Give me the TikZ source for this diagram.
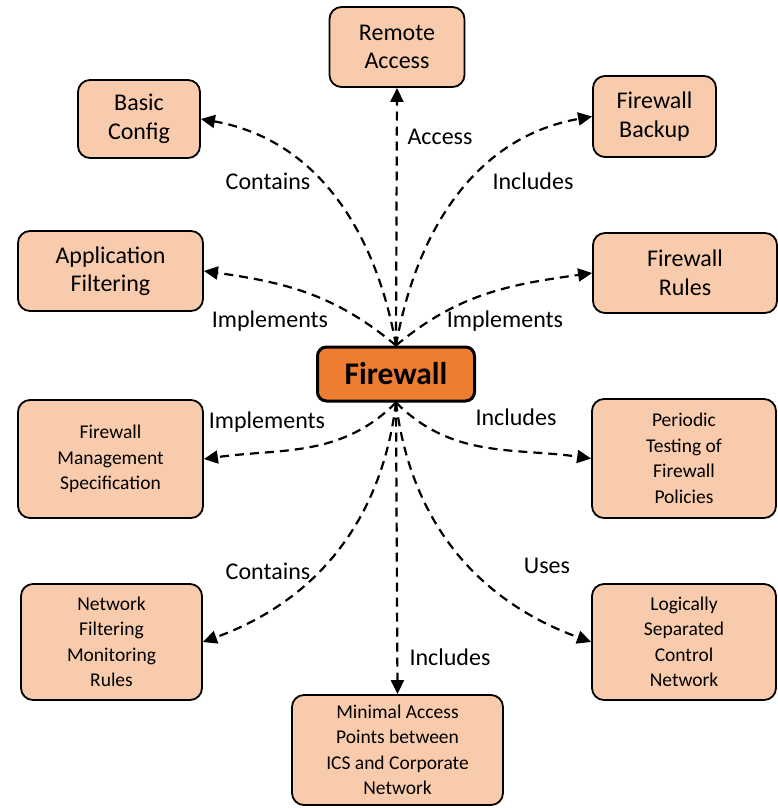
\documentclass[tikz,border=0pt]{standalone}
\usepackage{fontspec}
\setmainfont{Carlito}
\usetikzlibrary{arrows.meta}
\definecolor{peach}{HTML}{F8CBAD}
\definecolor{fworange}{HTML}{ED7D31}
\tikzset{
  box/.style={draw=black, line width=1.8pt, fill=peach, rounded corners=12pt,
    align=center, inner sep=2pt},
  bigtext/.style={font=\fontsize{24}{28.5}\selectfont},
  smalltext/.style={font=\fontsize{19.5}{25.5}\selectfont},
  hub/.style={draw=black, line width=3pt, fill=fworange, rounded corners=9pt,
    minimum width=157pt, minimum height=54pt, font=\fontsize{31.5}{34}\selectfont\bfseries},
  link/.style={line width=2.2pt, dash pattern=on 9pt off 6pt,
    -{Triangle[length=14pt,width=13pt]}},
  tag/.style={font=\fontsize{24}{28}\selectfont, inner sep=0pt},
}
\begin{document}
\begin{tikzpicture}[x=1pt,y=1pt]
\useasboundingbox (0,0) rectangle (778,-808);

% central node
\node[hub] (fw) at (396,-374) {Firewall};

% surrounding boxes
\node[box,bigtext,minimum width=135pt,minimum height=80pt] (ra) at (397,-47) {Remote\\Access};
\node[box,bigtext,minimum width=122pt,minimum height=78pt] (bc) at (139,-119) {Basic\\Config};
\node[box,bigtext,minimum width=123pt,minimum height=81pt] (fb) at (654.5,-116.5) {Firewall\\Backup};
\node[box,bigtext,minimum width=185pt,minimum height=80pt] (af) at (110.5,-271) {Application\\Filtering};
\node[box,bigtext,minimum width=184pt,minimum height=80pt] (fr) at (685,-273) {Firewall\\Rules};
\node[box,smalltext,minimum width=185pt,minimum height=118pt] (fms) at (110.5,-459) {Firewall\\Management\\Specification};
\node[box,smalltext,minimum width=184pt,minimum height=119pt] (pt) at (684,-458.5) {Periodic\\Testing of\\Firewall\\Policies};
\node[box,smalltext,minimum width=181pt,minimum height=116pt] (nf) at (111.5,-642) {Network\\Filtering\\Monitoring\\Rules};
\node[box,smalltext,minimum width=184pt,minimum height=116pt] (ls) at (684,-642) {Logically\\Separated\\Control\\Network};
\node[box,smalltext,minimum width=211pt,minimum height=110pt] (ma) at (397.5,-750) {Minimal Access\\Points between\\ICS and Corporate\\Network};

% connectors from the firewall
\draw[link] (fw.north) -- (ra.south);
\draw[link] (fw.north) to[out=100,in=-10] (bc.east);
\draw[link] (fw.north) to[out=80,in=190] (fb.west);
\draw[link] (fw.north) to[out=140,in=-8] (af.east);
\draw[link] (fw.north) to[out=40,in=188] (fr.west);
\draw[link] (fw.south) to[out=-135,in=8] (fms.east);
\draw[link] (fw.south) to[out=-45,in=172] (pt.west);
\draw[link] (fw.south) to[out=-97,in=20] (nf.east);
\draw[link] (fw.south) to[out=-83,in=160] (ls.west);
\draw[link] (fw.south) -- (ma.north);

% connector labels
\node[tag] (l1) at (440,-137) {Access};
\node[tag] (l2) at (268,-181) {Contains};
\node[tag] (l3) at (533,-181) {Includes};
\node[tag] (l4) at (270,-321) {Implements};
\node[tag] (l5) at (505,-321) {Implements};
\node[tag] (l6) at (267,-422) {Implements};
\node[tag] (l7) at (516,-417) {Includes};
\node[tag] (l8) at (268,-571) {Contains};
\node[tag] (l9) at (547,-566) {Uses};
\node[tag] (l10) at (450,-657) {Includes};
\end{tikzpicture}
\end{document}
